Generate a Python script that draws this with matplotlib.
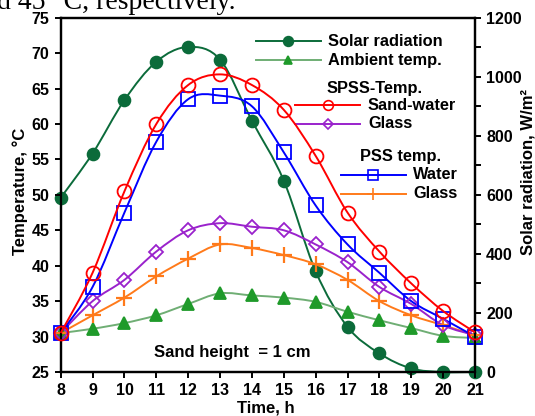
import numpy as np
import matplotlib
matplotlib.use("Agg")
import matplotlib.pyplot as plt
from matplotlib.path import Path
from matplotlib.patches import PathPatch
from matplotlib.lines import Line2D
from matplotlib.ticker import MultipleLocator

# data
hours = [8, 9, 10, 11, 12, 13, 14, 15, 16, 17, 18, 19, 20, 21]
solar_rad = [590, 740, 921, 1051, 1101, 1058, 851, 648, 341, 153, 63, 12, 0, 0]
ambient = [30.5, 31.1, 31.9, 33.0, 34.6, 36.1, 35.8, 35.5, 34.9, 33.5, 32.3, 31.2, 30.1, 29.8]
spss_sand_water = [30.5, 39.0, 50.5, 60.0, 65.5, 67.0, 65.5, 62.0, 55.5, 47.5, 42.0, 37.5, 33.6, 30.6]
spss_glass = [30.5, 35.0, 38.0, 42.0, 45.0, 46.0, 45.5, 45.0, 43.0, 40.5, 37.0, 34.6, 31.6, 30.2]
pss_water = [30.5, 37.0, 47.5, 57.5, 63.5, 64.0, 62.5, 56.0, 48.5, 43.0, 39.0, 35.0, 32.5, 30.0]
pss_glass = [30.5, 33.0, 35.5, 38.5, 41.0, 43.0, 42.5, 41.5, 40.2, 38.0, 35.0, 33.0, 31.6, 30.2]

W, H = 535, 416
plt.rcParams['font.family'] = ['Liberation Sans', 'DejaVu Sans']
plt.rcParams['font.weight'] = 'bold'

GREEN = '#0b6b3a'
AMB_LINE = '#6fae74'
AMB_MARK = '#1f9a2a'
RED = '#ff0000'
BLUE = '#0000ff'
PURPLE = '#9a22cc'
ORANGE = '#ff7a1a'


def px(x, y):
    return x / W, 1 - y / H


def smooth_path(x, y):
    # Catmull-Rom curve through the points, drawn as bezier segments
    pts = np.column_stack([x, y]).astype(float)
    ext = np.vstack([pts[0], pts, pts[-1]])
    verts = [pts[0]]
    codes = [Path.MOVETO]
    for i in range(1, len(ext) - 2):
        p0, p1, p2, p3 = ext[i - 1], ext[i], ext[i + 1], ext[i + 2]
        verts += [p1 + (p2 - p0) / 6, p2 - (p3 - p1) / 6, p2]
        codes += [Path.CURVE4] * 3
    return Path(verts, codes)


def series(axis, y, color, marker, ms, mfc, mew=1.3, lc=None, z=2):
    axis.add_patch(PathPatch(smooth_path(hours, y), fc='none',
                             ec=lc or color, lw=1.4, zorder=z, clip_on=False))
    axis.plot(hours, y, ls='none', marker=marker, ms=ms, mfc=mfc,
              mec=color, mew=mew, zorder=z + 0.5, clip_on=False)


fig = plt.figure(figsize=(W / 100, H / 100), dpi=100)
ax = fig.add_axes([60.7 / W, 1 - 372 / H, (475 - 60.7) / W, (372 - 17.7) / H])
ax2 = ax.twinx()
ax.set_zorder(2)
ax.patch.set_visible(False)

series(ax, ambient, AMB_MARK, '^', 8, AMB_MARK, lc=AMB_LINE)
series(ax, pss_glass, ORANGE, '+', 11, 'none', mew=1.6)
series(ax, spss_glass, PURPLE, 'D', 7.5, 'none')
series(ax, pss_water, BLUE, 's', 9.5, 'none')
series(ax2, solar_rad, GREEN, 'o', 8.5, GREEN, z=3)
series(ax, spss_sand_water, RED, 'o', 10, 'none', z=4)

ax.set_xlim(8, 21)
ax.set_ylim(25, 75)
ax2.set_ylim(0, 1200)
ax.set_xticks(hours)
ax.yaxis.set_major_locator(MultipleLocator(5))
ax2.yaxis.set_major_locator(MultipleLocator(200))
ax2.yaxis.set_minor_locator(MultipleLocator(100))

for a in (ax, ax2):
    for s in a.spines.values():
        s.set_linewidth(1.6)
    a.tick_params(direction='out', length=4, width=1.4, labelsize=11.5, pad=4)
ax2.tick_params(which='minor', direction='out', length=4, width=1.4)
for lab in ax.get_xticklabels() + ax.get_yticklabels() + ax2.get_yticklabels():
    lab.set_fontweight('bold')

# axis titles
fig.text(*px(20, 191), 'Temperature, °C', rotation=90, ha='center', va='center',
         fontsize=12, fontweight='bold')
fig.text(*px(528, 172), 'Solar radiation, W/m²', rotation=90, ha='center', va='center',
         fontsize=12, fontweight='bold')
fig.text(*px(266, 408), 'Time, h', ha='center', va='center', fontsize=12, fontweight='bold')
fig.text(*px(232, 353), 'Sand height  = 1 cm', ha='center', va='center',
         fontsize=12, fontweight='bold')

# cropped sentence above the chart
fig.text(*px(-3, 9), 'd 45 °C, respectively.', ha='left', va='baseline',
         fontsize=20, fontweight='normal', family='Liberation Serif')

# hand-placed legend
def leg_line(x0, x1, xm, y, color, marker, ms, mfc, lc=None):
    a, b = px(x0, y)
    c, _ = px(x1, y)
    fig.add_artist(Line2D([a, c], [b, b], color=lc or color, lw=1.4))
    m, _ = px(xm, y)
    fig.add_artist(Line2D([m], [b], marker=marker, ms=ms, mfc=mfc, mec=color, mew=1.2))


def leg_text(x, y, s):
    fig.text(*px(x, y), s, ha='left', va='center', fontsize=11.8, fontweight='bold')


leg_line(256, 321, 288, 41, GREEN, 'o', 7, GREEN)
leg_text(328, 41, 'Solar radiation')
leg_line(256, 321, 288, 60, AMB_MARK, '^', 6, AMB_MARK, lc=AMB_LINE)
leg_text(328, 60, 'Ambient temp.')
leg_text(327, 88, 'SPSS-Temp.')
leg_line(295, 360, 328, 105, RED, 'o', 7, 'none')
leg_text(368, 105, 'Sand-water')
leg_line(295, 360, 328, 124, PURPLE, 'D', 5.5, 'none')
leg_text(368, 124, 'Glass')
leg_text(360, 157, 'PSS temp.')
leg_line(341, 406, 373, 175, BLUE, 's', 7, 'none')
leg_text(413, 175, 'Water')
leg_line(341, 406, 373, 194, ORANGE, '+', 8, 'none')
leg_text(413, 194, 'Glass')

fig.savefig('out.png', dpi=100)
